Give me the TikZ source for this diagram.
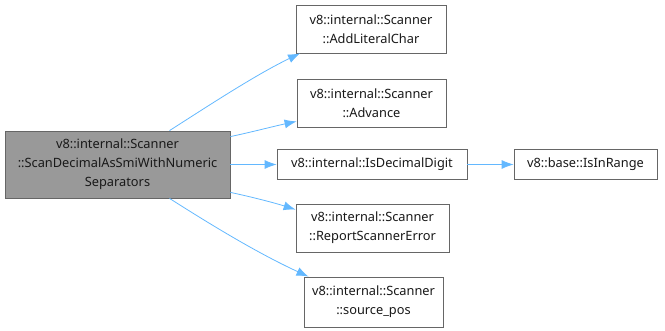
\documentclass[tikz,border=0pt]{standalone}
\usepackage{fontspec}
\setmainfont{Noto Sans}
\usetikzlibrary{arrows.meta}
\definecolor{edgeblue}{HTML}{63B8FF}
\definecolor{boxgray}{HTML}{999999}
\definecolor{frame}{HTML}{666666}
\tikzset{
  fn/.style={draw=frame, fill=white, line width=0.8pt, align=center,
    inner sep=0pt, font=\fontsize{12.8}{19}\selectfont, text=black!90},
  root/.style={fn, fill=boxgray},
  call/.style={draw=edgeblue, line width=0.8pt,
    -{Latex[length=12pt,width=9pt]}},
}
\begin{document}
\begin{tikzpicture}[x=1pt,y=-1pt]
\useasboundingbox (0,0) rectangle (665,331);
\node[root, minimum width=225pt, minimum height=67pt] (main) at (117.5,164.5)
  {v8::internal::Scanner\\::ScanDecimalAsSmiWithNumeric\\Separators};
\node[fn, minimum width=150pt, minimum height=48pt] (alc) at (371,29)
  {v8::internal::Scanner\\::AddLiteralChar};
\node[fn, minimum width=149pt, minimum height=48pt] (adv) at (371.5,103)
  {v8::internal::Scanner\\::Advance};
\node[fn, minimum width=190pt, minimum height=30pt] (idd) at (372,164.5)
  {v8::internal::IsDecimalDigit};
\node[fn, minimum width=143pt, minimum height=30pt] (iir) at (585.5,164.5)
  {v8::base::IsInRange};
\node[fn, minimum width=153pt, minimum height=48pt] (rse) at (372.5,228)
  {v8::internal::Scanner\\::ReportScannerError};
\node[fn, minimum width=139pt, minimum height=50pt] (spos) at (373.5,302)
  {v8::internal::Scanner\\::source\_pos};

\draw[call] ([xshift=52pt]main.north) .. controls (205,108) and (255,75) .. ([xshift=-71pt]alc.south);
\draw[call] ([yshift=-6pt]main.north east) .. controls (252,132) and (275,126) .. ([yshift=6pt]adv.south west);
\draw[call] (main.east) -- (idd.west);
\draw[call] ([yshift=6pt]main.south east) .. controls (252,197) and (275,203) .. ([yshift=-6pt]rse.north west);
\draw[call] ([xshift=52pt]main.south) .. controls (205,221) and (255,252) .. ([xshift=-65pt]spos.north);
\draw[call] (idd.east) -- (iir.west);
\end{tikzpicture}
\end{document}
